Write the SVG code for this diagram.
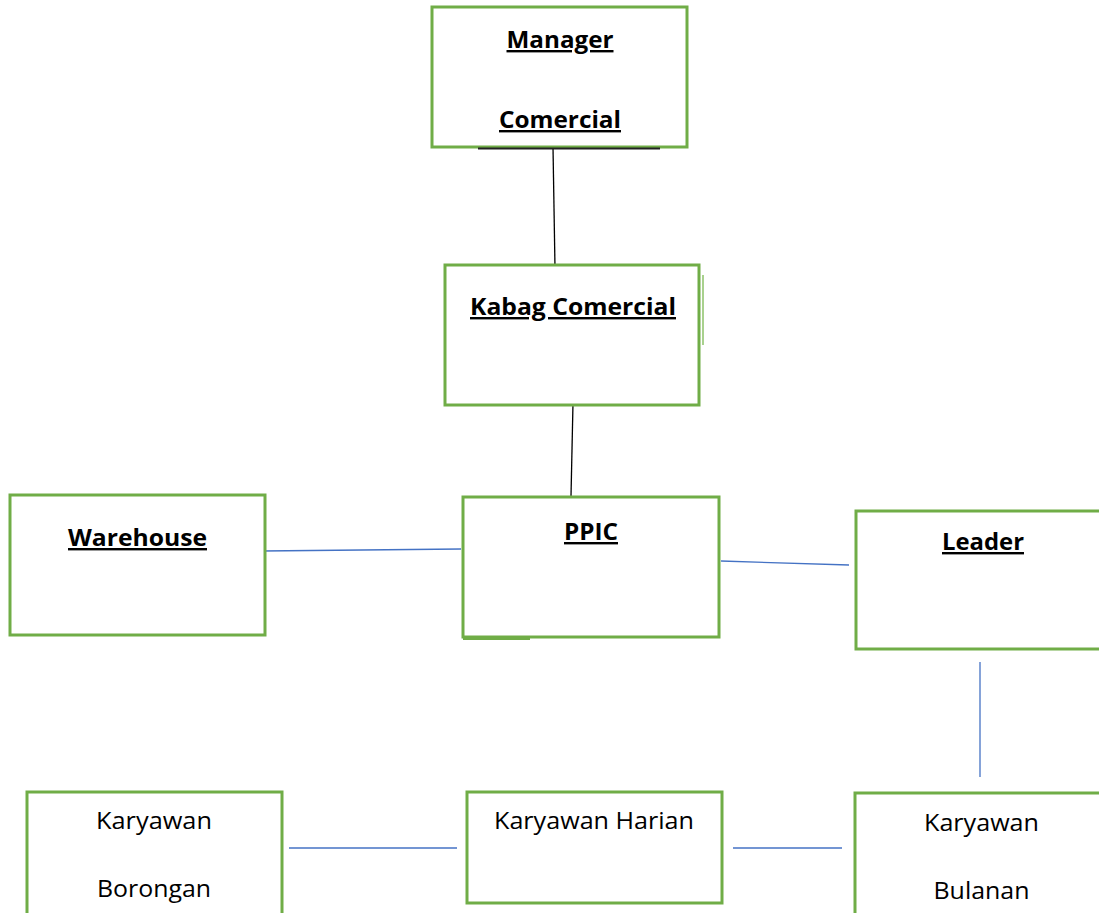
<svg xmlns="http://www.w3.org/2000/svg" width="1099" height="913" viewBox="0 0 1099 913">
<style>
.box{fill:#fff;stroke:#70AD47;stroke-width:3}
.t{font-family:"Open Sans","Liberation Sans",sans-serif;font-size:24px;fill:#000;text-anchor:middle}
.b{font-weight:bold;text-decoration:underline}
.blk{stroke:#000;stroke-width:1.3;fill:none}
.blu{stroke:#4472C4;stroke-width:1.3;fill:none}
</style>
<rect width="1099" height="913" fill="#fff"/>
<g id="connectors">
<line class="blk" x1="553" y1="147" x2="555" y2="268"/>
<line class="blk" x1="573" y1="403" x2="571" y2="496"/>
<line class="blu" x1="262" y1="551" x2="461" y2="549"/>
<line class="blu" x1="721" y1="561" x2="849" y2="565"/>
<line class="blu" x1="980" y1="662" x2="980" y2="777"/>
<line class="blu" x1="289" y1="848" x2="457" y2="848"/>
<line class="blu" x1="733" y1="848" x2="842" y2="848"/>
</g>
<g id="manager">
<rect class="box" x="432" y="7" width="255" height="140"/>
<line x1="478" y1="148.5" x2="660" y2="148.5" stroke="#222" stroke-width="2"/>
<text class="t b" x="560" y="48" textLength="107" lengthAdjust="spacingAndGlyphs">Manager</text>
<text class="t b" x="560" y="128" textLength="122" lengthAdjust="spacingAndGlyphs">Comercial</text>
</g>
<g id="kabag">
<rect class="box" x="445" y="265" width="254" height="140"/>
<line x1="703" y1="275" x2="703" y2="345" stroke="#A9D18E" stroke-width="2"/>
<text class="t b" x="573" y="315" textLength="206" lengthAdjust="spacingAndGlyphs">Kabag Comercial</text>
</g>
<g id="warehouse">
<rect class="box" x="10" y="495" width="255" height="140"/>
<text class="t b" x="137.5" y="546" textLength="139" lengthAdjust="spacingAndGlyphs">Warehouse</text>
</g>
<g id="ppic">
<rect class="box" x="463" y="497" width="256" height="140"/>
<line x1="463" y1="638.5" x2="530" y2="638.5" stroke="#70AD47" stroke-width="3"/>
<text class="t b" x="591" y="540" textLength="54" lengthAdjust="spacingAndGlyphs">PPIC</text>
</g>
<g id="leader">
<rect class="box" x="856" y="511" width="250" height="138"/>
<text class="t b" x="983" y="550" textLength="82" lengthAdjust="spacingAndGlyphs">Leader</text>
</g>
<g id="borongan">
<rect class="box" x="27" y="792" width="255" height="130"/>
<text class="t" x="154" y="829" textLength="116" lengthAdjust="spacingAndGlyphs">Karyawan</text>
<text class="t" x="154" y="897" textLength="114" lengthAdjust="spacingAndGlyphs">Borongan</text>
</g>
<g id="harian">
<rect class="box" x="467" y="792" width="255" height="111"/>
<text class="t" x="594" y="829" textLength="200" lengthAdjust="spacingAndGlyphs">Karyawan Harian</text>
</g>
<g id="bulanan">
<rect class="box" x="855" y="793" width="250" height="130"/>
<text class="t" x="981.5" y="831" textLength="115" lengthAdjust="spacingAndGlyphs">Karyawan</text>
<text class="t" x="981.5" y="899" textLength="96" lengthAdjust="spacingAndGlyphs">Bulanan</text>
</g>
</svg>
